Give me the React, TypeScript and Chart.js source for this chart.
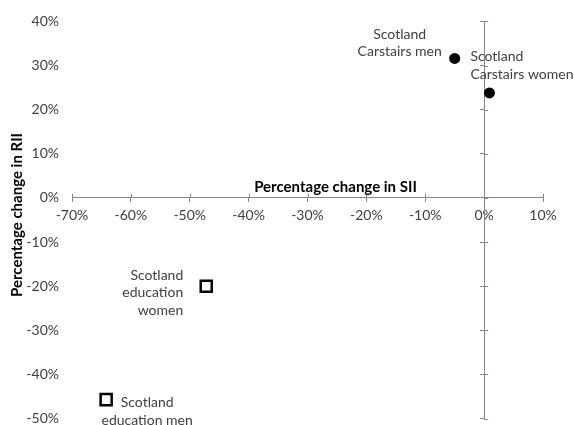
import React, { useEffect, useRef } from "react";
import { Chart, registerables } from "chart.js";

Chart.register(...registerables);

// ---- data (percent values) ----
const carstairsX = [-5.0, 0.9];
const carstairsY = [31.6, 23.8];
const carstairsLabels = [["Scotland", "Carstairs men"], ["Scotland", "Carstairs women"]];

const educationX = [-47.2, -64.2];
const educationY = [-20.0, -45.7];
const educationLabels = [["Scotland", "education", "women"], ["Scotland", "education men"]];

const xTitle = "Percentage change in SII";
const yTitle = "Percentage change in RII";
const xMin = -70;
const xMax = 10;
const yMin = -50;
const yMax = 40;
const tickStep = 10;

// label placement relative to point pixel (dx, dy of first line centre, alignment)
const labelPlacement = [
  [
    { dx: -55, dy: -24, align: "center" },
    { dx: -19, dy: -36, align: "left" },
  ],
  [
    { dx: -23, dy: -11, align: "right" },
    { dx: 41, dy: 3, align: "center" },
  ],
];

const FONT = "Lato";
const TEXT = "#404040";
const AXIS = "#868686";

const pct = (v: number | string) => `${Math.round(Number(v))}%`;

const decorPlugin = {
  id: "decor",
  afterDatasetsDraw(chart: any) {
    const { ctx, chartArea } = chart;
    const xs = chart.scales.x;
    const ys = chart.scales.y;
    const y2 = chart.scales.yAxis;
    const y0 = ys.getPixelForValue(0);
    const x0 = xs.getPixelForValue(0);
    ctx.save();
    // cross ticks (upper half on x axis, right half on y axis)
    ctx.strokeStyle = AXIS;
    ctx.lineWidth = 1;
    ctx.beginPath();
    xs.ticks.forEach((t: any) => {
      const px = Math.round(xs.getPixelForValue(t.value)) + 0.5;
      ctx.moveTo(px, y0 - 4);
      ctx.lineTo(px, y0);
    });
    y2.ticks.forEach((t: any) => {
      const py = Math.round(y2.getPixelForValue(t.value)) + 0.5;
      ctx.moveTo(x0, py);
      ctx.lineTo(x0 + 4, py);
    });
    ctx.stroke();

    // axis titles
    ctx.fillStyle = "#000";
    ctx.font = `bold 15px ${FONT}`;
    ctx.textAlign = "center";
    ctx.textBaseline = "middle";
    ctx.fillText(xTitle, (chartArea.left + chartArea.right) / 2 + 28, y0 - 11);
    ctx.save();
    ctx.translate(chartArea.left - 55, (chartArea.top + chartArea.bottom) / 2 - 5);
    ctx.rotate(-Math.PI / 2);
    ctx.fillText(yTitle, 0, 0);
    ctx.restore();

    // data labels
    const allLabels = [carstairsLabels, educationLabels];
    ctx.font = `14px ${FONT}`;
    ctx.fillStyle = TEXT;
    chart.data.datasets.forEach((_: any, di: number) => {
      const meta = chart.getDatasetMeta(di);
      meta.data.forEach((el: any, i: number) => {
        const place = labelPlacement[di][i];
        const lines = allLabels[di][i];
        ctx.textAlign = place.align;
        lines.forEach((line: string, li: number) => {
          ctx.fillText(line, el.x + place.dx, el.y + place.dy + li * 17.5);
        });
      });
    });
    ctx.restore();
  },
};

export default function App() {
  const ref = useRef<HTMLCanvasElement | null>(null);

  useEffect(() => {
    if (!ref.current) return;
    const chart = new Chart(ref.current, {
      type: "scatter",
      data: {
        datasets: [
          {
            label: "Carstairs",
            data: carstairsX.map((x, i) => ({ x, y: carstairsY[i] })),
            pointStyle: "circle",
            pointRadius: 5.5,
            pointBackgroundColor: "#000",
            pointBorderColor: "#000",
            pointBorderWidth: 0,
          },
          {
            label: "Education",
            data: educationX.map((x, i) => ({ x, y: educationY[i] })),
            pointStyle: "rect",
            pointRadius: 7.8,
            pointBackgroundColor: "#fff",
            pointBorderColor: "#000",
            pointBorderWidth: 2.5,
          },
        ],
      },
      options: {
        animation: false,
        responsive: true,
        maintainAspectRatio: false,
        layout: { padding: { left: 0, right: 31, top: 16, bottom: 7 } },
        plugins: {
          legend: { display: false },
          tooltip: { enabled: false },
        },
        scales: {
          x: {
            type: "linear",
            position: { y: 0 } as any,
            min: xMin,
            max: xMax,
            ticks: {
              stepSize: tickStep,
              callback: (v: any) => pct(v),
              font: { family: FONT, size: 14 },
              color: TEXT,
              padding: 5,
            },
            grid: {
              drawOnChartArea: false,
              drawTicks: true,
              tickLength: 4,
              color: AXIS,
            },
            border: { display: true, color: AXIS, width: 1 },
          },
          y: {
            type: "linear",
            position: "left",
            min: yMin,
            max: yMax,
            afterFit: (scale: any) => {
              scale.width = 72;
            },
            ticks: {
              stepSize: tickStep,
              callback: (v: any) => pct(v),
              font: { family: FONT, size: 14 },
              color: TEXT,
              padding: 13,
            },
            grid: { display: false, drawTicks: false },
            border: { display: false },
          },
          yAxis: {
            type: "linear",
            axis: "y",
            position: { x: 0 } as any,
            min: yMin,
            max: yMax,
            ticks: { display: false, stepSize: tickStep },
            grid: {
              drawOnChartArea: false,
              drawTicks: true,
              tickLength: 4,
              color: AXIS,
            },
            border: { display: true, color: AXIS, width: 1 },
          },
        },
      } as any,
      plugins: [decorPlugin],
    });
    return () => chart.destroy();
  }, []);

  return (
    <div
      style={{
        position: "absolute",
        left: 0,
        top: 0,
        width: 574,
        height: 425,
        overflow: "hidden",
        background: "#fff",
      }}
    >
      <div style={{ position: "relative", width: 574, height: 440 }}>
        <canvas ref={ref} />
      </div>
    </div>
  );
}
